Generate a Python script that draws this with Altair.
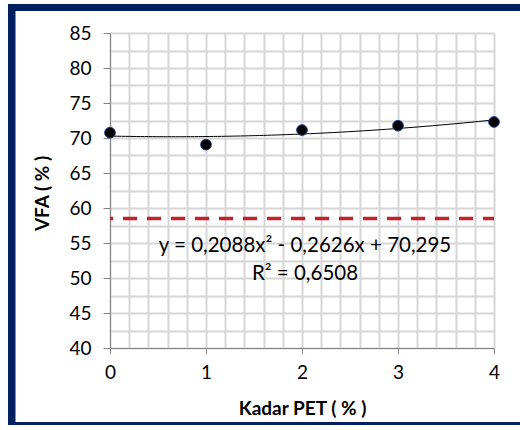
import altair as alt
import pandas as pd

# Data
kadar_pet = [0, 1, 2, 3, 4]
vfa = [70.76, 69.05, 71.14, 71.76, 72.29]
vfa_limit = [58.5]
x_ticks = [round(i * 0.2, 1) for i in range(21)]
y_ticks = [40 + 2.5 * i for i in range(19)]
eq_text = ["y = 0,2088x\u00b2 - 0,2626x + 70,295"]
r2_text = ["R\u00b2 = 0,6508"]

FONT = "Lato"
GRID = "#d6d6d6"
AXIS = "#868686"
FRAME = "#002060"

df = pd.DataFrame({"x": kadar_pet, "y": vfa})

xscale = alt.Scale(domain=[0, 4], nice=False, zero=False)
yscale = alt.Scale(domain=[40, 85], nice=False, zero=False)

xaxis = alt.Axis(
    title="Kadar PET ( % )",
    values=x_ticks,
    tickCount=100,
    format=".0f",
    labelExpr="datum.value % 1 == 0 ? datum.label : ''",
    labelOverlap=False,
    labelFlush=False,
    tickColor={"condition": {"test": "datum.value % 1 == 0", "value": AXIS}, "value": "transparent"},
    tickSize=6,
    grid=True,
    gridColor=GRID,
    gridWidth=2,
    domainColor=AXIS,
    labelFont=FONT,
    labelFontSize=19,
    labelColor="#000000",
    labelPadding=9,
    titleFont=FONT,
    titleFontSize=19,
    titleFontWeight="bold",
    titleColor="#000000",
    titlePadding=17,
)
yaxis = alt.Axis(
    title="VFA ( % )",
    values=y_ticks,
    tickCount=100,
    format="d",
    labelExpr="datum.value % 5 == 0 ? datum.label : ''",
    labelOverlap=False,
    labelFlush=False,
    tickColor={"condition": {"test": "datum.value % 5 == 0", "value": AXIS}, "value": "transparent"},
    tickSize=7,
    grid=True,
    gridColor=GRID,
    gridWidth=2,
    domainColor=AXIS,
    labelFont=FONT,
    labelFontSize=19,
    labelColor="#000000",
    labelPadding=12,
    titleFont=FONT,
    titleFontSize=19,
    titleFontWeight="bold",
    titleColor="#000000",
    titleX=-58,
    titleY=160,
)

base = alt.Chart(df)

points = base.mark_point(
    filled=True, size=115, color="#000000", stroke="#1f3f8f", strokeWidth=1, opacity=1
).encode(
    x=alt.X("x:Q", scale=xscale, axis=xaxis),
    y=alt.Y("y:Q", scale=yscale, axis=yaxis),
)

trend = base.transform_regression(
    "x", "y", method="poly", order=2, extent=[0, 4]
).mark_line(color="#000000", strokeWidth=1).encode(
    x=alt.X("x:Q", scale=xscale),
    y=alt.Y("y:Q", scale=yscale),
)

limit = alt.Chart(pd.DataFrame({"v": vfa_limit})).mark_rule(
    color="#c8202a", strokeWidth=3.5, strokeDash=[14, 10], strokeDashOffset=3
).encode(y=alt.Y("v:Q", scale=yscale))

eq = alt.Chart(pd.DataFrame({"t": eq_text})).mark_text(
    font=FONT, fontSize=20.5, color="#000000", align="center", baseline="alphabetic"
).encode(text="t:N", x=alt.value(195), y=alt.value(219))

r2 = alt.Chart(pd.DataFrame({"t": r2_text})).mark_text(
    font=FONT, fontSize=20.5, color="#000000", align="center", baseline="alphabetic"
).encode(text="t:N", x=alt.value(195), y=alt.value(247))

# outer frame drawn as three filled bars (top, left, bottom), inside the page
one = pd.DataFrame({"a": [0]})
frame_top = alt.Chart(one).mark_rect(color=FRAME, strokeWidth=0).encode(
    x=alt.value(-102), x2=alt.value(410), y=alt.value(-29), y2=alt.value(-22)
)
frame_left = alt.Chart(one).mark_rect(color=FRAME, strokeWidth=0).encode(
    x=alt.value(-102), x2=alt.value(-94.5), y=alt.value(-29), y2=alt.value(392)
)
frame_bottom = alt.Chart(one).mark_rect(color=FRAME, strokeWidth=0).encode(
    x=alt.value(-102), x2=alt.value(410), y=alt.value(389), y2=alt.value(392)
)

chart = alt.layer(
    limit, trend, points, eq, r2, frame_top, frame_left, frame_bottom
).properties(
    width=384,
    height=315,
    autosize=alt.AutoSizeParams(type="none"),
    padding={"left": 110, "top": 33, "right": 26, "bottom": 77},
    background="#ffffff",
).configure_view(strokeWidth=0)

chart.save("out.html", embed_options={"renderer": "svg", "actions": False})
